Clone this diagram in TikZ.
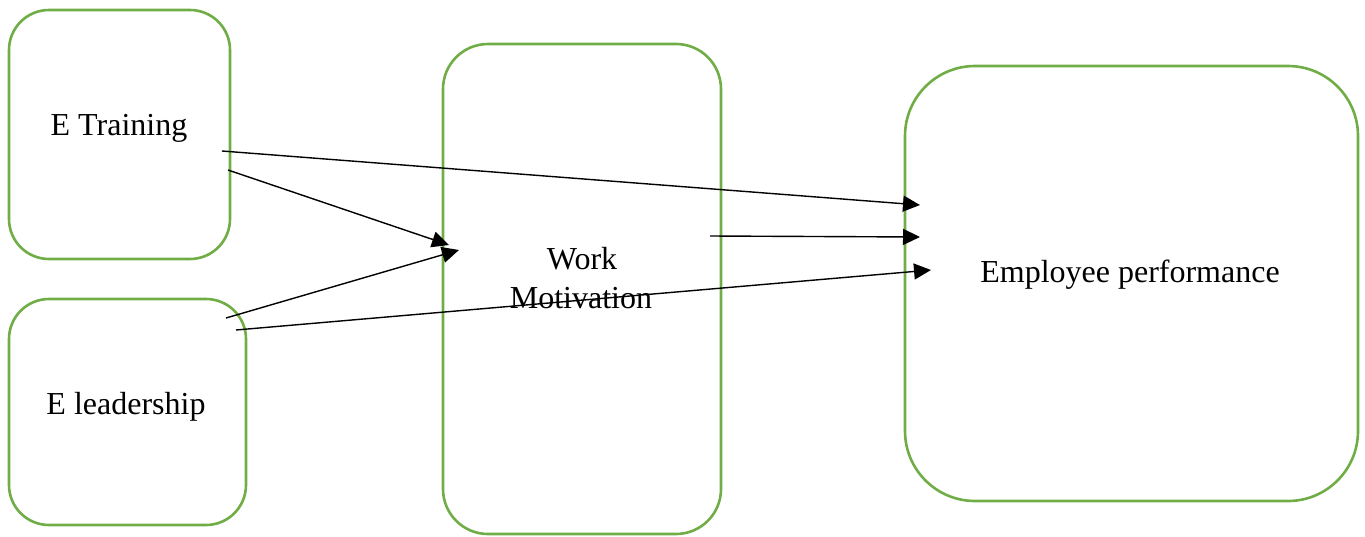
\documentclass[tikz,border=0pt]{standalone}
\usepackage{fontspec}
\setmainfont{Liberation Serif}
\usetikzlibrary{arrows.meta}
\definecolor{boxgreen}{HTML}{70AD47}
\begin{document}
\begin{tikzpicture}[x=1pt,y=-1pt,
  box/.style={draw=boxgreen, line width=2.6pt, rectangle, inner sep=0pt},
  lbl/.style={font=\fontsize{32}{39}\selectfont, align=center, inner sep=0pt},
  link/.style={draw=black, line width=1.4pt, -{Triangle[length=17pt,width=16pt]}}]
\useasboundingbox (0,0) rectangle (1365,536);

% boxes
\node[box, rounded corners=40pt, minimum width=221pt, minimum height=249pt] (train) at (119.5,134.5) {};
\node[box, rounded corners=40pt, minimum width=237pt, minimum height=226pt] (lead) at (127.5,412) {};
\node[box, rounded corners=45pt, minimum width=278pt, minimum height=490pt] (motiv) at (582,289) {};
\node[box, rounded corners=70pt, minimum width=453pt, minimum height=435pt] (perf) at (1131.5,283.5) {};

% labels
\node[lbl, anchor=base] (trainlbl) at (119,135) {E Training};
\node[lbl, anchor=base] (leadlbl) at (126,414) {E leadership};
\node[lbl, anchor=base] (motivlbl1) at (582,269) {Work};
\node[lbl, anchor=base] (motivlbl2) at (581,308) {Motivation};
\node[lbl, anchor=base] (perflbl) at (1130,282) {Employee performance};

% connector ends
\coordinate (trainA) at (222,151);
\coordinate (trainB) at (228,170);
\coordinate (leadA) at (226,318);
\coordinate (leadB) at (236,330);
\coordinate (motivOut) at (710,236);
\coordinate (motivIn1) at (449,245);
\coordinate (motivIn2) at (459,250);
\coordinate (perfIn1) at (920,205);
\coordinate (perfIn2) at (920,237);
\coordinate (perfIn3) at (931,270);

% connectors
\draw[link] (trainA) -- (perfIn1);
\draw[link] (trainB) -- (motivIn1);
\draw[link] (leadA) -- (motivIn2);
\draw[link] (leadB) -- (perfIn3);
\draw[link] (motivOut) -- (perfIn2);
\end{tikzpicture}
\end{document}
